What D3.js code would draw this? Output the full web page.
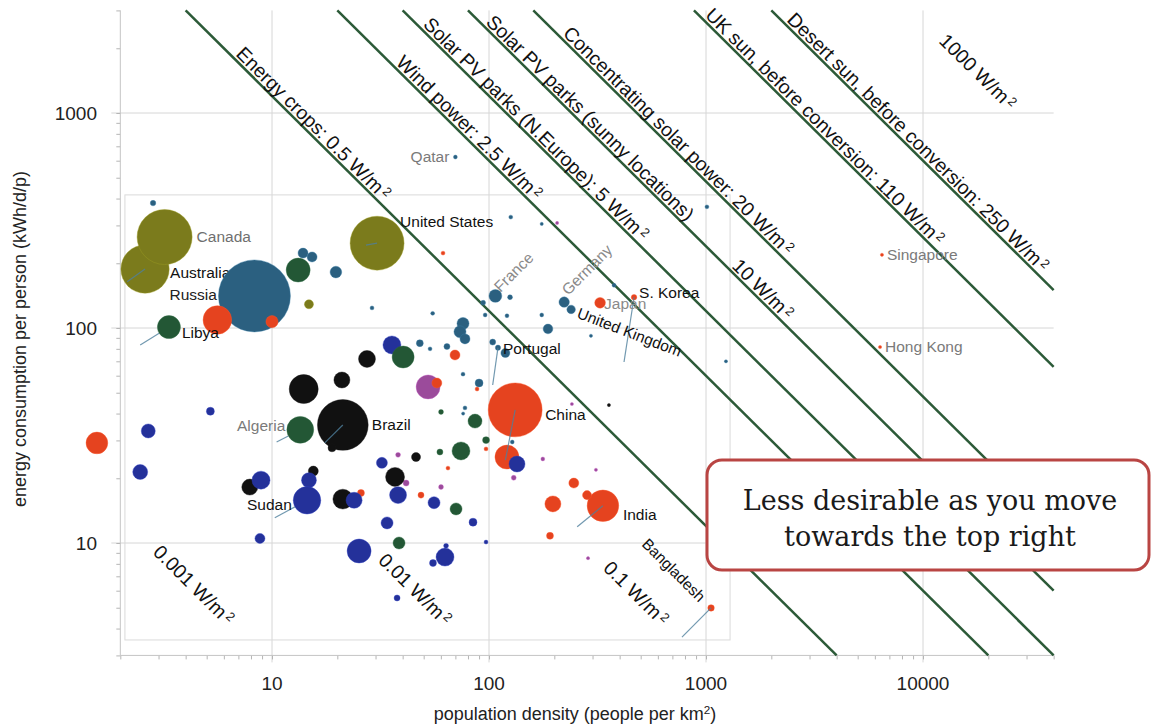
<!DOCTYPE html>
<html>
<head>
<meta charset="utf-8">
<script src="https://cdn.jsdelivr.net/npm/d3@7"></script>
<style>
body{margin:0;background:#fff;}
svg{display:block;font-family:"Liberation Sans",Arial,Helvetica,sans-serif;}
</style>
</head>
<body>
<svg id="graph"></svg>
<script>
// axis ticks
var xTicks = [10, 100, 1000, 10000];
var yTicks = [10, 100, 1000];

// power density lines (W/m2)
var powerLines = [0.5, 2.5, 5, 10, 20, 110, 250];

// labels that sit along the power lines: text, W/m2, density where text starts
var powerLabelText = ["Energy crops: 0.5 W/m", "Wind power: 2.5 W/m", "Solar PV parks (N.Europe): 5 W/m",
    "Solar PV parks (sunny locations)", "10 W/m", "Concentrating solar power: 20 W/m",
    "UK sun, before conversion: 110 W/m", "Desert sun, before conversion: 250 W/m",
    "1000 W/m", "0.001 W/m", "0.01 W/m", "0.1 W/m"];
var powerLabelWatts = [0.5, 2.5, 5, 10, 10, 20, 110, 250, 1000, 0.001, 0.01, 0.1];
var powerLabelFrom = [6.6, 36.1, 48.1, 93.8, 1276, 212, 959, 2286, 11480, 2.74, 29.9, 325];

// countries: [density (people/km2), energy (kWh/d/p), land area (million km2), name]
var northAmerica = [
    [2.6, 188, 7.7, "Australia"],
    [3.2, 265, 10.0, "Canada"],
    [30.5, 248, 9.6, "United States"],
    [14.8, 129, 0.27]
];
var europe = [
    [8.3, 141, 17.1, "Russia"],
    [2.83, 381, 0.1], [13.9, 223, 0.33], [15.3, 214, 0.33], [19.7, 182, 0.45],
    [28.9, 124, 0.05], [55, 117, 0.05], [48, 85, 0.16], [53.5, 80, 0.05], [64, 82, 0.12],
    [75.9, 105, 0.48], [73.5, 96, 0.48], [77.5, 89, 0.33], [75.9, 61, 0.05], [90, 55.5, 0.21],
    [107, 141, 0.55, "France"], [125, 139, 0.08], [94, 131, 0.08], [96, 115, 0.05],
    [121, 114, 0.05], [175, 115, 0.05], [222, 132, 0.36, "Germany"],
    [239, 122, 0.24, "United Kingdom"], [187, 99, 0.31], [295, 92, 0.03],
    [110, 81, 0.09, "Portugal"], [104, 86, 0.12], [119, 76.5, 0.27], [126, 328, 0.05],
    [175, 305, 0.03], [1010, 366, 0.05], [377, 158, 0.05], [1236, 70, 0.03],
    [70, 624, 0.05, "Qatar"], [77.5, 42.5, 0.05], [76, 40, 0.03], [128, 29.5, 0.05]
];
var centralAmerica = [
    [52.4, 53.2, 1.9], [38.1, 25.7, 0.08], [41.5, 19, 0.12], [60.1, 18.2, 0.08],
    [130, 20.1, 0.08], [177, 24.6, 0.05], [241, 44.3, 0.03], [311, 21.9, 0.03],
    [286, 8.5, 0.03], [206, 308, 0.03]
];
var southAmerica = [
    [21.2, 35.4, 8.5, "Brazil"], [14.0, 52, 2.78], [21, 57.3, 0.85], [27.4, 71.8, 0.95],
    [7.9, 18.2, 0.85], [15.5, 21.6, 0.33], [21.2, 16, 1.3], [36.9, 20.3, 1.19],
    [46.1, 25.1, 0.27], [18.9, 27.7, 0.21], [357, 43.8, 0.03]
];
var asia = [
    [132, 41.6, 9.6, "China"], [335, 14.9, 3.29, "India"], [5.6, 109, 2.7], [1.56, 29.2, 1.56],
    [10, 107, 0.49], [57.5, 55.5, 0.33], [69.7, 74.9, 0.33], [61.4, 223, 0.05], [88.1, 52, 0.05],
    [121, 25.1, 1.9], [25.7, 17.1, 0.16], [48.6, 16.7, 0.12], [64.7, 22.3, 0.05],
    [96.9, 27.4, 0.05], [246, 19, 0.33], [197, 15.2, 0.85], [283, 16.7, 0.27], [191, 10.8, 0.16],
    [325, 131, 0.38, "Japan"], [466, 139, 0.1, "S. Korea"], [1055, 4.99, 0.14, "Bangladesh"],
    [6470, 219, 0.001, "Singapore"], [6340, 81.6, 0.001, "Hong Kong"]
];
var africa = [
    [5.2, 41, 0.21], [2.69, 33.2, 0.65], [2.47, 21.4, 0.74], [8.9, 19.6, 1.07], [8.8, 10.5, 0.33],
    [14.8, 19.6, 0.74], [14.5, 15.8, 2.5, "Sudan"], [23.9, 15.8, 0.85], [32.1, 23.6, 0.4],
    [38.1, 16.7, 0.95], [55.8, 15.4, 0.48], [33.9, 12.4, 0.48], [84.4, 12.5, 0.21],
    [25.2, 9.18, 1.9], [62.7, 8.6, 1.07], [55.2, 8.07, 0.16], [63.4, 9.7, 0.08],
    [96.9, 10.1, 0.05], [37.7, 5.55, 0.12], [134.6, 23.3, 0.85], [35.7, 83.4, 1.07]
];
var northAfrica = [
    [3.35, 101, 1.76, "Libya"], [13.5, 33.6, 2.38, "Algeria"], [13.2, 186, 1.9], [40.2, 73.3, 1.6],
    [60.1, 40.7, 0.08], [86.2, 36.9, 0.65], [96.9, 30.1, 0.16], [59.4, 26.5, 0.12],
    [74.3, 26.8, 1.07], [70.5, 14.4, 0.48], [38.5, 10, 0.48]
];

// other end of the leader lines: [density, energy]
var leaderEnds = {
    "Australia": [2.15, 164], "Libya": [2.47, 83.4], "Algeria": [10.5, 29.5],
    "Brazil": [17.5, 29.2], "Sudan": [10.3, 13.1], "United States": [27.1, 243],
    "Portugal": [104, 54.3], "S. Korea": [419, 69.5], "China": [119, 24.3],
    "India": [255, 11.9], "Bangladesh": [775, 3.65]
};

var initGraph = function(target)
{
    var screen = {width: 1151, height: 727};
    var svg = d3.select(target)
        .attr("width", screen.width)
        .attr("height", screen.height);

    var xScale = d3.scaleLog().domain([10, 10000]).range([272, 923]);
    var yScale = d3.scaleLog().domain([10, 1000]).range([543, 113]);
    var rScale = d3.scaleSqrt().domain([0, 17.1]).range([0, 36]);
    var ext = {x: [2, 40000], y: [3, 3000]};

    drawGrid(svg, xScale, yScale, ext);
    drawAxes(svg, xScale, yScale, ext);
    drawPowerLines(svg, xScale, yScale, ext);
    drawCountries(svg, xScale, yScale, rScale);
    drawCallout(svg);
}

var drawGrid = function(svg, xScale, yScale, ext)
{
    var grid = svg.append("g").attr("stroke", "#d6d6d6").attr("stroke-width", 1);
    grid.selectAll(".vg")
        .data(xTicks)
        .enter()
        .append("line")
        .attr("x1", function(d){ return xScale(d); })
        .attr("x2", function(d){ return xScale(d); })
        .attr("y1", yScale(ext.y[1]))
        .attr("y2", yScale(ext.y[0]) + 7);
    grid.selectAll(".hg")
        .data(yTicks)
        .enter()
        .append("line")
        .attr("x1", xScale(ext.x[0]) - 9)
        .attr("x2", xScale(ext.x[1]))
        .attr("y1", function(d){ return yScale(d); })
        .attr("y2", function(d){ return yScale(d); });

    // frame of the inner plot
    svg.append("rect")
        .attr("x", xScale(2.1))
        .attr("y", yScale(416))
        .attr("width", xScale(1291) - xScale(2.1))
        .attr("height", yScale(3.54) - yScale(416))
        .attr("fill", "none")
        .attr("stroke", "#dadada");
}

var drawAxes = function(svg, xScale, yScale, ext)
{
    var xAll = d3.scaleLog().domain(ext.x).ticks();
    var yAll = d3.scaleLog().domain(ext.y).ticks();

    var xAxis = d3.axisBottom(xScale).tickValues(xAll).tickSize(4).tickFormat("");
    var yAxis = d3.axisLeft(yScale).tickValues(yAll).tickSize(4).tickFormat("");

    var gx = svg.append("g")
        .attr("transform", "translate(0," + yScale(ext.y[0]) + ")")
        .call(xAxis);
    var gy = svg.append("g")
        .attr("transform", "translate(" + xScale(ext.x[0]) + ",0)")
        .call(yAxis);
    gx.select(".domain").remove();
    gy.select(".domain").remove();
    gx.selectAll(".tick line").attr("stroke", "#b5b5b5");
    gy.selectAll(".tick line").attr("stroke", "#b5b5b5");

    svg.append("line")
        .attr("x1", xScale(ext.x[0])).attr("x2", xScale(ext.x[1]))
        .attr("y1", yScale(ext.y[0])).attr("y2", yScale(ext.y[0]))
        .attr("stroke", "#c4c4c4");
    svg.append("line")
        .attr("x1", xScale(ext.x[0])).attr("x2", xScale(ext.x[0]))
        .attr("y1", yScale(ext.y[1])).attr("y2", yScale(ext.y[0]))
        .attr("stroke", "#c4c4c4");

    svg.selectAll(".xlab")
        .data(xTicks)
        .enter()
        .append("text")
        .attr("x", function(d){ return xScale(d); })
        .attr("y", 690)
        .attr("text-anchor", "middle")
        .attr("font-size", 19)
        .attr("fill", "#222")
        .text(d3.format("d"));
    svg.selectAll(".ylab")
        .data(yTicks)
        .enter()
        .append("text")
        .attr("x", 97)
        .attr("y", function(d){ return yScale(d); })
        .attr("dy", "0.35em")
        .attr("text-anchor", "end")
        .attr("font-size", 19)
        .attr("fill", "#222")
        .text(d3.format("d"));

    var xt = svg.append("text")
        .attr("x", 575)
        .attr("y", 720)
        .attr("text-anchor", "middle")
        .attr("font-size", 18)
        .attr("fill", "#222");
    xt.append("tspan").text("population density (people per km");
    xt.append("tspan").text("2").attr("font-size", "0.65em").attr("dy", "-0.55em");
    xt.append("tspan").text(")").attr("dy", "0.36em");

    svg.append("text")
        .attr("transform", "translate(26,339) rotate(-90)")
        .attr("text-anchor", "middle")
        .attr("font-size", 18)
        .attr("fill", "#222")
        .text("energy consumption per person (kWh/d/p)");
}

var drawPowerLines = function(svg, xScale, yScale, ext)
{
    var lineGenerator = d3.line()
        .x(function(p){ return xScale(p[0]); })
        .y(function(p){ return yScale(p[1]); });

    var ends = function(w)
    {
        var k = w * 24000;
        var d1 = Math.max(ext.x[0], k / ext.y[1]);
        var d2 = Math.min(ext.x[1], k / ext.y[0]);
        return [[d1, k / d1], [d2, k / d2]];
    }

    svg.append("g")
        .selectAll("path")
        .data(powerLines)
        .enter()
        .append("path")
        .attr("d", function(w){ return lineGenerator(ends(w)); })
        .attr("fill", "none")
        .attr("stroke", "#2c5a38")
        .attr("stroke-width", 2.5);

    var angle = Math.atan2(yScale(10) - yScale(100), xScale(100) - xScale(10));
    var deg = angle * 180 / Math.PI;
    var off = 3;

    var labels = svg.append("g")
        .selectAll("text")
        .data(powerLabelText)
        .enter()
        .append("text")
        .attr("font-size", 19.5)
        .attr("fill", "#111")
        .attr("transform", function(t, i)
        {
            var d = powerLabelFrom[i];
            var e = powerLabelWatts[i] * 24000 / d;
            var x = xScale(d) + off * Math.sin(angle);
            var y = yScale(e) - off * Math.cos(angle);
            return "translate(" + x + "," + y + ") rotate(" + deg + ")";
        });
    labels.append("tspan").text(function(t){ return t; });
    labels.filter(function(t){ return t.slice(-3) == "W/m"; })
        .append("tspan")
        .text("2")
        .attr("font-size", "0.65em")
        .attr("dx", "0.2em")
        .attr("dy", "-0.45em");
}

var labelLayout = {
    "Canada": {dx: 32, dy: 5, c: "#6f6f6f"},
    "Australia": {dx: 25, dy: 9, c: "#111", under: true},
    "Russia": {dx: -85, dy: 4, c: "#222"},
    "Libya": {dx: 13, dy: 11, c: "#111"},
    "United States": {dx: 23, dy: -16, c: "#111"},
    "France": {dx: 5, dy: -3, c: "#8a8a8a", rot: -45},
    "Germany": {dx: 4, dy: -6, c: "#8a8a8a", rot: -45},
    "Japan": {dx: 4, dy: 6, c: "#8a8a8a"},
    "S. Korea": {dx: 5, dy: 1, c: "#111"},
    "United Kingdom": {dx: 5, dy: 8, c: "#111", rot: 21},
    "Portugal": {dx: 5, dy: 6, c: "#111"},
    "China": {dx: 30, dy: 10, c: "#111"},
    "Algeria": {dx: -15, dy: 1, c: "#7a7a7a", end: true},
    "Brazil": {dx: 29, dy: 5, c: "#111"},
    "Sudan": {dx: -60, dy: 10, c: "#111"},
    "India": {dx: 20, dy: 14, c: "#111"},
    "Bangladesh": {dx: -70, dy: -63, c: "#111", rot: 45},
    "Qatar": {dx: -6, dy: 5, c: "#7a7a7a", end: true},
    "Singapore": {dx: 5, dy: 5, c: "#7a7a7a"},
    "Hong Kong": {dx: 5, dy: 5, c: "#7a7a7a"}
};
var edgeLeaders = ["Libya", "Algeria", "Sudan"];

var drawCountries = function(svg, xScale, yScale, rScale)
{
    var groups = [
        {rows: northAmerica, color: "#7b7b1c"},
        {rows: europe, color: "#2b6080"},
        {rows: centralAmerica, color: "#9b4b9b"},
        {rows: southAmerica, color: "#111111"},
        {rows: asia, color: "#e5431f"},
        {rows: africa, color: "#24319a"},
        {rows: northAfrica, color: "#235735"}
    ];
    var points = [];
    groups.forEach(function(g)
    {
        g.rows.forEach(function(r)
        {
            points.push({d: r[0], e: r[1], area: r[2], name: r[3], color: g.color});
        });
    });
    var named = points.filter(function(p){ return p.name; });

    var placeLabel = function(sel)
    {
        sel.attr("transform", function(p)
            {
                var l = labelLayout[p.name];
                return "translate(" + (xScale(p.d) + l.dx) + "," + (yScale(p.e) + l.dy) + ")" +
                    (l.rot ? " rotate(" + l.rot + ")" : "");
            })
            .attr("text-anchor", function(p){ return labelLayout[p.name].end ? "end" : "start"; })
            .attr("font-size", 15.5)
            .attr("fill", function(p){ return labelLayout[p.name].c; })
            .text(function(p){ return p.name; });
    }

    svg.append("g")
        .selectAll("text")
        .data(named.filter(function(p){ return labelLayout[p.name].under; }))
        .enter()
        .append("text")
        .call(placeLabel);

    svg.append("g")
        .selectAll("circle")
        .data(points)
        .enter()
        .append("circle")
        .attr("cx", function(p){ return xScale(p.d); })
        .attr("cy", function(p){ return yScale(p.e); })
        .attr("r", function(p){ return Math.max(1.6, rScale(p.area)); })
        .attr("fill", function(p){ return p.color; })
        .attr("stroke", function(p){ return d3.color(p.color).brighter(0.7); })
        .attr("stroke-width", 0.4);

    var leaderStart = function(p, axis)
    {
        var x0 = xScale(p.d), x1 = xScale(leaderEnds[p.name][0]);
        var y0 = yScale(p.e), y1 = yScale(leaderEnds[p.name][1]);
        var r = edgeLeaders.indexOf(p.name) >= 0 ? rScale(p.area) : 0;
        var len = Math.sqrt((x1 - x0) * (x1 - x0) + (y1 - y0) * (y1 - y0));
        return axis == "x" ? x0 + (x1 - x0) * r / len : y0 + (y1 - y0) * r / len;
    }

    svg.append("g")
        .selectAll("line")
        .data(named.filter(function(p){ return leaderEnds[p.name]; }))
        .enter()
        .append("line")
        .attr("x1", function(p){ return leaderStart(p, "x"); })
        .attr("y1", function(p){ return leaderStart(p, "y"); })
        .attr("x2", function(p){ return xScale(leaderEnds[p.name][0]); })
        .attr("y2", function(p){ return yScale(leaderEnds[p.name][1]); })
        .attr("stroke", "#4f7f9c")
        .attr("stroke-opacity", 0.8)
        .attr("stroke-width", 1.2);

    svg.append("g")
        .selectAll("text")
        .data(named.filter(function(p){ return !labelLayout[p.name].under; }))
        .enter()
        .append("text")
        .call(placeLabel);
}

var drawCallout = function(svg)
{
    var box = svg.append("g");
    box.append("rect")
        .attr("x", 707)
        .attr("y", 460)
        .attr("width", 442)
        .attr("height", 110)
        .attr("rx", 15)
        .attr("fill", "#fff")
        .attr("stroke", "#b94543")
        .attr("stroke-width", 3);
    box.selectAll("text")
        .data(["Less desirable as you move", "towards the top right"])
        .enter()
        .append("text")
        .attr("x", 930)
        .attr("y", function(t, i){ return 510 + i * 36; })
        .attr("text-anchor", "middle")
        .attr("font-family", "'DejaVu Serif', 'Liberation Serif', serif")
        .attr("font-size", 27)
        .attr("fill", "#1a1a1a")
        .text(function(t){ return t; });
}

initGraph("#graph");
</script>
</body>
</html>
